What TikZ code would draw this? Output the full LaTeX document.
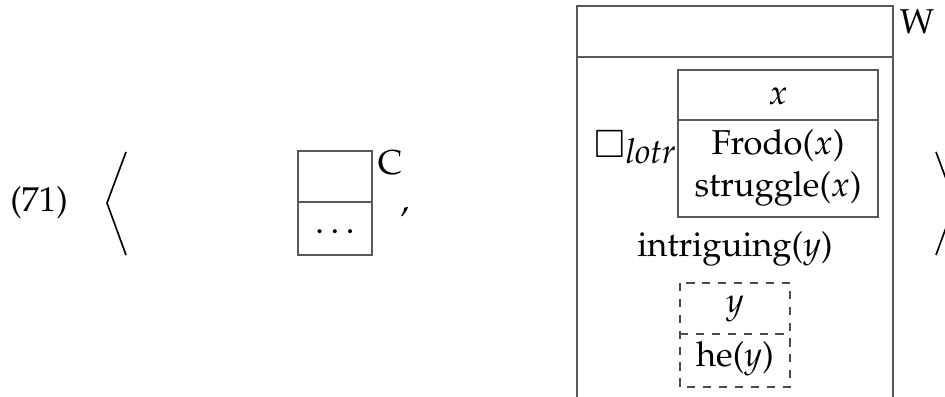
\documentclass[tikz,border=0pt]{standalone}
\usepackage[T1]{fontenc}
\usepackage{mathpazo}
\usepackage{amssymb}
\tikzset{
  box/.style={draw=black!65, line width=0.4pt},
  dbox/.style={draw=black!70, line width=0.4pt, dash pattern=on 2.7pt off 2.6pt},
  brk/.style={draw=black, line width=0.55pt},
  txt/.style={inner sep=0pt, font=\fontsize{11.5}{14}\selectfont},
}
\begin{document}
\begin{tikzpicture}[x=0.3333pt, y=-0.3333pt]
\useasboundingbox (0,0) rectangle (945,397);
% label
\node[txt] (num) at (39,203) {(71)};
% left bracket
\coordinate (lb1) at (126,152);
\coordinate (lb2) at (107,203);
\coordinate (lb3) at (126,255);
\draw[brk] (lb1) -- (lb2) -- (lb3);
% small box
\draw[box] (298,151) rectangle (372,255);
\draw[box] (298,202) -- (372,202);
\node[txt] (dots) at (335,232) {$\dots$};
\node[txt] (C) at (390,163) {C};
\node[txt, anchor=base] (comma) at (405,212) {,};
% big box
\draw[box] (577,397) -- (577,6) -- (893,6) -- (893,397);
\draw[box] (577,57) -- (893,57);
\node[txt] (W) at (917,22) {W};
% inner box
\draw[box] (678,70) rectangle (878,217);
\draw[box] (678,120) -- (878,120);
\node[txt] (x) at (778,96) {$x$};
\node[txt] (frodo) at (778,146) {Frodo($x$)};
\node[txt] (struggle) at (778,189) {struggle($x$)};
\node[txt, anchor=base east] (nec) at (676,158) {\scalebox{1.1}{$\Box$}\raisebox{-1.7pt}{\itshape lotr}};
\node[txt] (intr) at (735,249) {intriguing($y$)};
% dashed box
\draw[dbox] (680,283) rectangle (790,387);
\draw[dbox] (680,334) -- (790,334);
\node[txt] (y) at (735,309) {$y$};
\node[txt] (he) at (735,359) {he($y$)};
% right bracket
\coordinate (rb1) at (936,152);
\coordinate (rb2) at (955,203);
\coordinate (rb3) at (936,255);
\draw[brk] (rb1) -- (rb2) -- (rb3);
\end{tikzpicture}
\end{document}
